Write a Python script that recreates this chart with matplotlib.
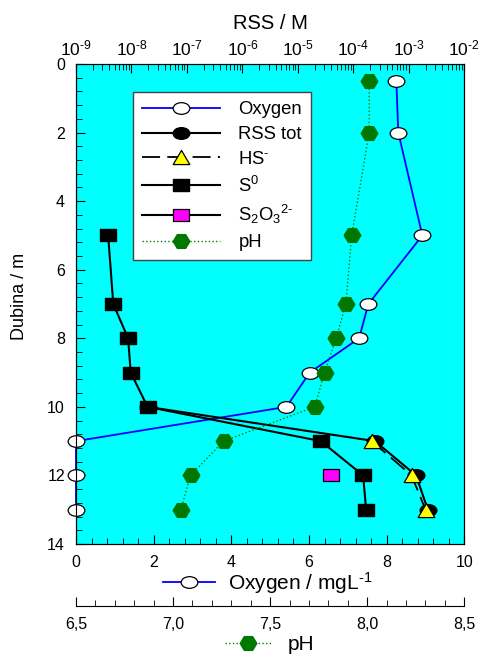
import numpy as np
import matplotlib
matplotlib.use("Agg")
from matplotlib import pyplot as plt
from matplotlib.markers import MarkerStyle
from matplotlib.lines import Line2D
from matplotlib.ticker import MultipleLocator, LogLocator, FuncFormatter, NullFormatter

plt.rcParams['font.family'] = ['Liberation Sans', 'DejaVu Sans']
plt.rcParams['mathtext.fontset'] = 'custom'
plt.rcParams['mathtext.rm'] = 'Liberation Sans'
plt.rcParams['mathtext.it'] = 'Liberation Sans:italic'
plt.rcParams['mathtext.default'] = 'regular'

# data
depth_ox = [0.5, 2, 5, 7, 8, 9, 10, 11, 12, 13]
oxygen = [8.25, 8.3, 8.92, 7.53, 7.29, 6.02, 5.42, 0, 0, 0]
ph = [8.01, 8.01, 7.92, 7.89, 7.84, 7.78, 7.73, 7.26, 7.09, 7.04]

depth_s0 = [5, 7, 8, 9, 10, 11, 12, 13]
s0 = [3.8e-9, 4.7e-9, 8.7e-9, 9.7e-9, 1.95e-8, 2.6e-5, 1.5e-4, 1.7e-4]

depth_rss = [10, 11, 12, 13]
rss_tot = [1.95e-8, 2.45e-4, 1.35e-3, 2.2e-3]

depth_hs = [11, 12, 13]
hs = [2.15e-4, 1.12e-3, 2.0e-3]

depth_s2o3 = [12]
s2o3 = [4.0e-5]

depth_ticks = [0, 2, 4, 6, 8, 10, 12, 14]
ph_ticks = [6.5, 7.0, 7.5, 8.0, 8.5]


def squashed(name, sy):
    # markers in the original look a bit wider than tall
    m = MarkerStyle(name)
    p = m.get_path().transformed(m.get_transform())
    return p.transformed(matplotlib.transforms.Affine2D().scale(1, sy))


ell = squashed('o', 0.70)
sq = squashed('s', 0.85)
tri = squashed('^', 0.85)
hexa = squashed('H', 0.95)

fig = plt.figure(figsize=(4.82, 6.55), dpi=100)
ax = fig.add_axes([76 / 482, 1 - 544 / 655, 388.3 / 482, 480 / 655])
ax.set_facecolor('#00FFFF')

# oxygen on the main bottom axis
l_ox, = ax.plot(oxygen, depth_ox, color='#0000FF', lw=1.3, marker=ell, ms=12,
                mfc='white', mec='black', mew=0.9, clip_on=False, zorder=3)
ax.set_xlim(0, 10)
ax.set_ylim(14, 0)
ax.set_yticks(depth_ticks)
ax.yaxis.set_minor_locator(MultipleLocator(0.4))
ax.xaxis.set_major_locator(MultipleLocator(2))
ax.xaxis.set_minor_locator(MultipleLocator(0.4))
ax.tick_params(which='both', direction='in', top=False, right=False, labelsize=11.5)
ax.tick_params(which='major', length=6.5, pad=8)
ax.tick_params(which='minor', length=4)
ax.set_ylabel('Dubina / m', fontsize=13)
ax.yaxis.set_label_coords(-0.124, 0.515)

# RSS on a log axis on top
ax_r = ax.twiny()
ax_r.set_xscale('log')
ax_r.set_xlim(1e-9, 1e-2)
ax_r.xaxis.set_major_locator(LogLocator(base=10, numticks=20))
ax_r.xaxis.set_minor_locator(LogLocator(base=10, subs=np.arange(2, 10), numticks=20))
ax_r.xaxis.set_major_formatter(FuncFormatter(
    lambda v, p: '$10^{\\text{-}%d}$' % round(-np.log10(v))))
ax_r.xaxis.set_minor_formatter(NullFormatter())
ax_r.tick_params(which='both', direction='in', labelsize=12.5, pad=4)
ax_r.tick_params(which='major', length=6.5)
ax_r.tick_params(which='minor', length=4)
ax_r.set_xlabel('RSS / M', fontsize=14.5, labelpad=7)

l_s0, = ax_r.plot(s0, depth_s0, color='black', lw=1.5, marker=sq, ms=11,
                  mfc='black', mec='black', zorder=3)
l_rss, = ax_r.plot(rss_tot, depth_rss, color='black', lw=1.5, marker=ell, ms=12,
                   mfc='black', mec='black', zorder=3)
l_hs, = ax_r.plot(hs, depth_hs, color='black', lw=1.3, ls=(0, (10, 4)), marker=tri,
                  ms=12, mfc='#FFFF00', mec='black', mew=0.9, zorder=4)
l_s2, = ax_r.plot(s2o3, depth_s2o3, color='black', lw=1.5, marker=sq, ms=11,
                  mfc='#FF00FF', mec='black', mew=0.9, zorder=4)

# pH on a second bottom axis further down
ax_p = ax.twiny()
ax_p.set_xlim(6.5, 8.5)
ax_p.xaxis.set_ticks_position('bottom')
ax_p.xaxis.set_label_position('bottom')
ax_p.spines['bottom'].set_position(('outward', 44.6))
for s in ['top', 'left', 'right']:
    ax_p.spines[s].set_visible(False)
ax_p.set_xticks(ph_ticks)
ax_p.xaxis.set_minor_locator(MultipleLocator(0.1))
ax_p.xaxis.set_major_formatter(FuncFormatter(lambda v, p: f'{v:.1f}'.replace('.', ',')))
ax_p.tick_params(which='both', direction='in', labelsize=11.5, pad=8)
ax_p.tick_params(which='major', length=6.5)
ax_p.tick_params(which='minor', length=4)

l_ph, = ax_p.plot(ph, depth_ox, color='#008000', lw=1, ls=':', marker=hexa, ms=12,
                  mfc='#007800', mec='#007800', zorder=3)

leg = ax_p.legend([l_ox, l_rss, l_hs, l_s0, l_s2, l_ph],
                  ['Oxygen', 'RSS tot', 'HS$^{\\text{-}}$', 'S$^{0}$',
                   'S$_2$O$_3$$^{2\\text{-}}$', 'pH'],
                  loc='upper left', bbox_to_anchor=(0.147, 0.9417), borderaxespad=0,
                  fontsize=13.3, handlelength=4.2, handletextpad=1.0, labelspacing=0.42,
                  borderpad=0.5, numpoints=1, fancybox=False, framealpha=1,
                  edgecolor='#444444')
leg.get_frame().set_linewidth(1)
leg.set_zorder(10)

# axis labels with a sample of the series, like the original
h_ox = Line2D([], [], color='#0000FF', lw=1.3, marker=ell, ms=12, mfc='white', mec='black', mew=0.9)
fig.legend([h_ox], ['Oxygen / mgL$^{\\text{-}1}$'], loc='center left',
           bbox_to_anchor=(163 / 482, 1 - 583 / 655), frameon=False, fontsize=15,
           handlelength=2.5, handletextpad=0.6, borderpad=0, borderaxespad=0)
h_ph = Line2D([], [], color='#008000', lw=1, ls=':', marker=hexa, ms=12, mfc='#007800', mec='#007800')
fig.legend([h_ph], ['pH'], loc='center left', bbox_to_anchor=(225 / 482, 1 - 645 / 655),
           frameon=False, fontsize=15, handlelength=2.2, handletextpad=0.8, borderpad=0,
           borderaxespad=0)

fig.savefig('out.png', dpi=100)
